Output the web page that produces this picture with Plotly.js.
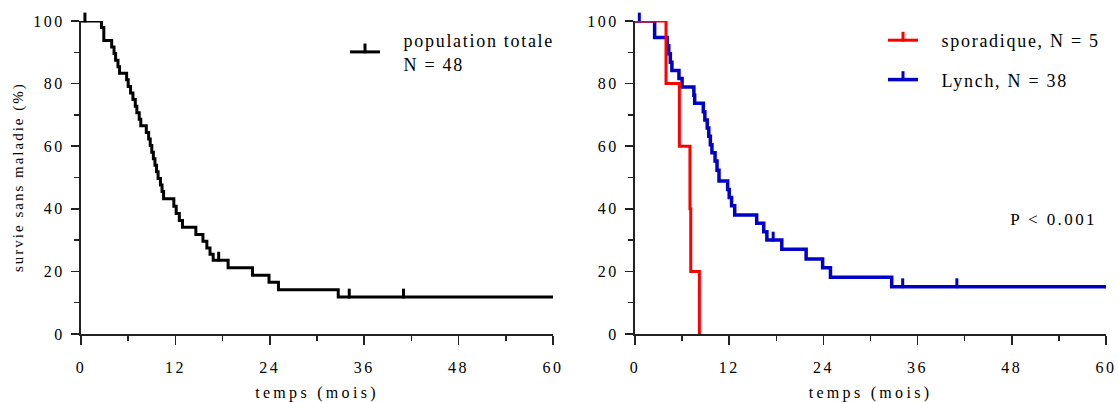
<!DOCTYPE html>
<html><head><meta charset="utf-8">
<script src="https://cdn.plot.ly/plotly-3.0.1.min.js"></script>
<style>
html,body{margin:0;padding:0;background:#fff;}
#chart{width:1118px;height:402px;}
text.legendtext, text.legend2text { letter-spacing: 1.7px; }
.xtick text, .ytick text, .x2tick text, .y2tick text { letter-spacing: 2.5px; }
text.xtitle, text.x2title { letter-spacing: 3.3px; }
g.annotation[data-index="0"] text { letter-spacing: 2.4px; }
g.annotation[data-index="1"] text { letter-spacing: 2px; }
</style>
</head><body>
<div id="chart"></div>
<script>
// ---- Left panel: whole population (N = 48) ----
const totalTimes = [0, 2.6, 2.9, 3.9, 4.2, 4.4, 4.7, 4.9, 5.8, 6.0, 6.3, 6.6, 6.9, 7.1, 7.4, 7.6, 8.3, 8.6, 8.8, 9.0, 9.2, 9.4, 9.6, 9.8, 10.1, 10.3, 10.5, 11.8, 12.1, 12.5, 12.9, 14.6, 15.5, 16.0, 16.4, 16.8, 18.7, 21.8, 23.9, 25.1, 32.7, 60];
const totalSurv  = [100, 97.9, 93.8, 91.7, 89.6, 87.5, 85.4, 83.3, 81.2, 79.1, 77.0, 74.9, 72.8, 70.7, 68.6, 66.5, 64.4, 62.3, 60.2, 58.1, 56.0, 53.9, 51.8, 49.7, 47.6, 45.5, 43.2, 40.8, 38.5, 36.3, 34.1, 31.8, 29.6, 27.5, 25.5, 23.6, 21.2, 18.8, 16.5, 14.1, 11.8, 11.8];
const totalCensor = [0.5, 17.5, 34.1, 41.0];

// ---- Right panel: sporadic (N = 5) vs Lynch (N = 38) ----
const sporTimes = [0, 3.95, 5.65, 7.0, 7.1, 8.2];
const sporSurv  = [100, 80, 60, 40, 20, 0];

const lynchTimes = [0, 2.5, 4.1, 4.3, 4.5, 4.7, 5.6, 6.0, 7.5, 7.6, 8.7, 8.9, 9.2, 9.4, 9.6, 9.8, 10.2, 10.45, 10.7, 11.8, 12.0, 12.3, 12.7, 15.5, 16.4, 16.8, 18.7, 21.8, 23.9, 24.9, 32.7, 60];
const lynchSurv  = [100, 94.7, 92.1, 89.5, 86.8, 84.2, 81.6, 78.9, 76.3, 73.7, 71.0, 68.4, 65.8, 63.2, 60.5, 57.9, 55.3, 52.3, 48.9, 46.2, 43.6, 41.0, 38.0, 35.4, 32.7, 30.0, 27.1, 24.0, 21.2, 18.1, 15.1, 15.1];
const lynchCensor = [0.55, 17.6, 34.1, 41.0];

const xTicks = [0, 12, 24, 36, 48, 60];
const yTicks = [0, 20, 40, 60, 80, 100];

const labels = {
  total: "population totale<br>N = 48",
  spor: "sporadique, N = 5",
  lynch: "Lynch, N = 38",
  xTitle: "temps (mois)",
  yTitle: "survie sans maladie (%)",
  pval: "P < 0.001"
};

const BLACK = "#000000", RED = "#ff0000", BLUE = "#0000c8";
const FONT = "Liberation Serif, Times New Roman, serif";
const pad = "\u00a0\u00a0\u00a0";

function survAt(times, surv, t) {
  let s = surv[0];
  for (let i = 0; i < times.length; i++) { if (times[i] <= t) s = surv[i]; }
  return s;
}

const tickMarker = (color, ang) => ({symbol: "line-ns", size: 7, standoff: 3.5, angle: ang, line: {color: color, width: 3}});

function stepTrace(times, surv, color, width, xa, ya) {
  return {x: times, y: surv, xaxis: xa, yaxis: ya, mode: "lines", line: {shape: "hv", color: color, width: width}, showlegend: false, hoverinfo: "skip", cliponaxis: false};
}
function censorTrace(cens, times, surv, color, xa, ya) {
  return {x: cens, y: cens.map(t => survAt(times, surv, t)), xaxis: xa, yaxis: ya, mode: "markers",
    marker: tickMarker(color, 180), showlegend: false, hoverinfo: "skip", cliponaxis: false};
}
function legendTrace(name, color, width, legend, group, xa, ya) {
  return {x: [null], y: [null], xaxis: xa, yaxis: ya, name: name, legend: legend, legendgroup: group, mode: "lines+markers",
    line: {color: color, width: width}, marker: tickMarker(color, 0)};
}

const data = [
  stepTrace(totalTimes, totalSurv, BLACK, 3, "x", "y"),
  censorTrace(totalCensor, totalTimes, totalSurv, BLACK, "x", "y"),
  legendTrace(pad + labels.total.replace("<br>", "<br>" + pad), BLACK, 3, "legend", "t", "x", "y"),
  stepTrace(lynchTimes, lynchSurv, BLUE, 3.5, "x2", "y2"),
  censorTrace(lynchCensor, lynchTimes, lynchSurv, BLUE, "x2", "y2"),
  stepTrace(sporTimes, sporSurv, RED, 3, "x2", "y2"),
  legendTrace(pad + labels.spor, RED, 3, "legend2", "s", "x2", "y2"),
  legendTrace(pad + labels.lynch, BLUE, 3.5, "legend2", "l", "x2", "y2")
];

const TICKFONT = {family: FONT, size: 16, color: "#000"};
function xAxis(domain, anchor) {
  return {domain: domain, anchor: anchor, range: [0, 60], tickvals: xTicks, ticktext: xTicks.map(String),
    ticks: "outside", ticklen: 9, tickwidth: 1.5, tickcolor: "#222", showline: true, linecolor: "#222", linewidth: 2,
    showgrid: false, zeroline: false, ticklabelstandoff: 9,
    minor: {tickvals: [6, 18, 30, 42, 54], ticks: "outside", ticklen: 5, tickwidth: 1.5, tickcolor: "#222", showgrid: false},
    tickfont: TICKFONT,
    title: {text: labels.xTitle, font: {family: FONT, size: 16, color: "#000"}, standoff: 19}, fixedrange: true};
}
function yAxis(domain, anchor) {
  return {domain: domain, anchor: anchor, range: [0, 100], tickvals: yTicks, ticktext: yTicks.map(String),
    ticks: "outside", ticklen: 8, tickwidth: 1.5, tickcolor: "#222", showline: true, linecolor: "#222", linewidth: 2,
    showgrid: false, zeroline: false, ticklabelstandoff: 3,
    minor: {tickvals: [10, 30, 50, 70, 90], ticks: "outside", ticklen: 5, tickwidth: 1.5, tickcolor: "#222", showgrid: false},
    tickfont: TICKFONT, fixedrange: true};
}

const yDom = [68 / 402, 381 / 402];
const LEGFONT = {family: FONT, size: 18, color: "#000"};
const layout = {
  width: 1118, height: 402, margin: {l: 0, r: 0, t: 0, b: 0}, paper_bgcolor: "#fff", plot_bgcolor: "#fff",
  font: {family: FONT, size: 16, color: "#000"},
  xaxis: xAxis([81 / 1118, 553 / 1118], "y"),
  yaxis: yAxis(yDom, "x"),
  xaxis2: xAxis([635 / 1118, 1106 / 1118], "y2"),
  yaxis2: yAxis(yDom, "x2"),
  legend: {x: 345 / 1118, y: 380 / 402, xanchor: "left", yanchor: "top", bgcolor: "rgba(0,0,0,0)", font: LEGFONT, tracegroupgap: 0},
  legend2: {x: 883 / 1118, y: 380 / 402, xanchor: "left", yanchor: "top", bgcolor: "rgba(0,0,0,0)", font: LEGFONT, tracegroupgap: 13},
  annotations: [
    {text: labels.pval, xref: "x2", yref: "y2", x: 53.3, y: 36.6, showarrow: false, xanchor: "center", yanchor: "middle", font: {family: FONT, size: 17, color: "#000"}},
    {text: labels.yTitle, xref: "paper", yref: "paper", x: 18 / 1118, y: 225 / 402, textangle: -90, showarrow: false, xanchor: "center", yanchor: "middle", font: {family: FONT, size: 15, color: "#000"}}
  ],
  showlegend: true
};

Plotly.newPlot("chart", data, layout, {staticPlot: true, displayModeBar: false});
</script>
</body></html>
